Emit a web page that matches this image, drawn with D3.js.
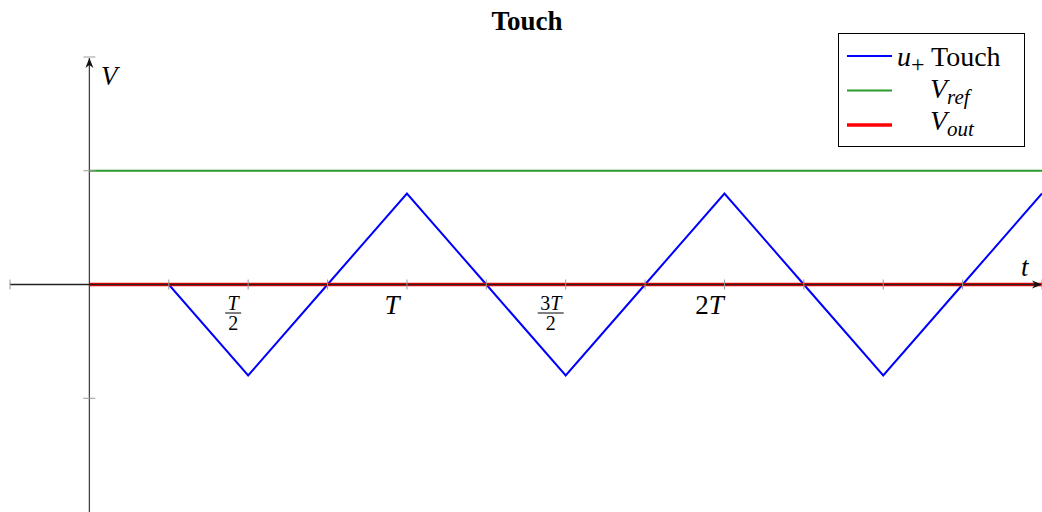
<!DOCTYPE html>
<html>
<head>
<meta charset="utf-8">
<script src="https://cdn.jsdelivr.net/npm/d3@7"></script>
<style>
    body { margin: 0; background: #fff; }
    text { font-family: "Liberation Serif", "DejaVu Serif", serif; }
</style>
</head>
<body>
<svg id="chart" width="1042" height="512"></svg>
<script>
// time in quarter periods (T/4), voltages in arbitrary units
var tPoints = [0, 1, 2, 3, 4, 5, 6, 7, 8, 9, 10, 11, 12];
var uPlus = [0, 0, -0.8, 0, 0.8, 0, -0.8, 0, 0.8, 0, -0.8, 0, 0.8];
var vRefT = [0, 12];
var vRef = [1, 1];
var vOutT = [0, 12];
var vOut = [0, 0];
var xTicks = [-1, 0, 1, 2, 3, 4, 5, 6, 7, 8, 9, 10, 11, 12];
var yTicks = [-2, -1, 1, 2];
var xTickLabels = [
    {at: 2, num: "T", den: "2"},
    {at: 4, text: "T"},
    {at: 6, num: "3T", den: "2"},
    {at: 8, text: "2T"}
];

var svg = d3.select("#chart");

var x = d3.scaleLinear().domain([-1, 12]).range([10, 1042]);
var y = d3.scaleLinear().domain([-2, 2]).range([512, 57]);

var line = d3.line()
    .x(function (d) { return x(d[0]); })
    .y(function (d) { return y(d[1]); });

// title
svg.append("text")
    .attr("x", 527)
    .attr("y", 30)
    .attr("text-anchor", "middle")
    .style("font-weight", "bold")
    .style("font-size", "27px")
    .text("Touch");

// axis lines
svg.append("line")
    .attr("x1", x(0)).attr("x2", x(0))
    .attr("y1", 512).attr("y2", y(2) + 1)
    .attr("stroke", "#444").attr("stroke-width", 1.3);

// series
svg.append("path")
    .datum(vRefT.map(function (t, i) { return [t, vRef[i]]; }))
    .attr("d", line)
    .attr("fill", "none")
    .attr("stroke", "#2a9a2a")
    .attr("stroke-width", 2.2);

svg.append("path")
    .datum(tPoints.map(function (t, i) { return [t, uPlus[i]]; }))
    .attr("d", line)
    .attr("fill", "none")
    .attr("stroke", "#0000ff")
    .attr("stroke-width", 2);

svg.append("path")
    .datum(vOutT.map(function (t, i) { return [t, vOut[i]]; }))
    .attr("d", line)
    .attr("fill", "none")
    .attr("stroke", "#ff0000")
    .attr("stroke-width", 3.5);

svg.append("line")
    .attr("x1", x(-1)).attr("x2", 1038)
    .attr("y1", y(0)).attr("y2", y(0))
    .attr("stroke", "#222").attr("stroke-width", 1.3);

// arrow heads
svg.append("path")
    .attr("d", "M1042," + y(0) + " L1032," + (y(0) - 4) + " L1035," + y(0) + " L1032," + (y(0) + 4) + "Z")
    .attr("fill", "#111");
svg.append("path")
    .attr("d", "M" + x(0) + "," + (y(2) + 1) + " L" + (x(0) - 4) + "," + (y(2) + 11) + " L" + x(0) + "," + (y(2) + 8) + " L" + (x(0) + 4) + "," + (y(2) + 11) + "Z")
    .attr("fill", "#111");

// ticks
svg.append("g")
    .selectAll("line")
    .data(xTicks.filter(function (d) { return d !== 0; }))
    .enter()
    .append("line")
    .attr("x1", function (d) { return x(d); })
    .attr("x2", function (d) { return x(d); })
    .attr("y1", y(0) - 5)
    .attr("y2", y(0) + 5)
    .attr("stroke", "#999")
    .attr("stroke-width", 1);

svg.append("g")
    .selectAll("line")
    .data(yTicks.filter(function (d) { return d > -2; }))
    .enter()
    .append("line")
    .attr("x1", x(0) - 6)
    .attr("x2", x(0) + 6)
    .attr("y1", function (d) { return y(d); })
    .attr("y2", function (d) { return y(d); })
    .attr("stroke", "#999")
    .attr("stroke-width", 1);

// tick labels
var lab = svg.append("g")
    .selectAll("g")
    .data(xTickLabels)
    .enter()
    .append("g")
    .attr("transform", function (d) { return "translate(" + (x(d.at) - 15) + "," + y(0) + ")"; });

lab.filter(function (d) { return d.text; })
    .append("text")
    .attr("y", 29)
    .attr("text-anchor", "middle")
    .style("font-size", "27px")
    .style("font-style", "italic")
    .html(function (d) {
        return d.text.replace(/([0-9]*)(T)/, "<tspan font-style='normal'>$1</tspan>$2");
    });

lab.filter(function (d) { return d.num; })
    .append("text")
    .attr("y", 25.5)
    .attr("text-anchor", "middle")
    .style("font-size", "20px")
    .style("font-style", "italic")
    .html(function (d) {
        return d.num.replace(/([0-9]*)(T)/, "<tspan font-style='normal'>$1</tspan>$2");
    });

lab.filter(function (d) { return d.num; })
    .append("line")
    .attr("x1", function (d) { return d.num.length > 1 ? -13 : -8; })
    .attr("x2", function (d) { return d.num.length > 1 ? 13 : 8; })
    .attr("y1", 28.5).attr("y2", 28.5)
    .attr("stroke", "#000").attr("stroke-width", 1);

lab.filter(function (d) { return d.den; })
    .append("text")
    .attr("y", 45.5)
    .attr("text-anchor", "middle")
    .style("font-size", "20px")
    .text(function (d) { return d.den; });

// axis names
svg.append("text")
    .attr("x", 1021).attr("y", 276)
    .style("font-size", "27px").style("font-style", "italic")
    .text("t");
svg.append("text")
    .attr("x", 101).attr("y", 85)
    .style("font-size", "27px").style("font-style", "italic")
    .text("V");

// legend
var legendItems = [
    {color: "#0000ff", width: 2, main: "u", sub: "+", rest: " Touch", dy: 10},
    {color: "#2a9a2a", width: 2.2, main: "V", sub: "ref", rest: "", dy: 7},
    {color: "#ff0000", width: 3.5, main: "V", sub: "out", rest: "", dy: 5}
];

svg.append("rect")
    .attr("x", 838.5).attr("y", 33.5)
    .attr("width", 186).attr("height", 113)
    .attr("fill", "#fff")
    .attr("stroke", "#000")
    .attr("stroke-width", 1);

var legend = svg.append("g")
    .selectAll("g")
    .data(legendItems)
    .enter()
    .append("g")
    .attr("transform", function (d, i) { return "translate(0," + (56 + i * 34.5) + ")"; });

legend.append("line")
    .attr("x1", 847).attr("x2", 892)
    .attr("y1", 0).attr("y2", 0)
    .attr("stroke", function (d) { return d.color; })
    .attr("stroke-width", function (d) { return d.width; });

var lt = legend.append("text")
    .attr("x", function (d, i) { return i === 0 ? 897 : 930; })
    .attr("y", function (d) { return d.dy; })
    .style("font-size", "28px");
lt.append("tspan")
    .style("font-style", "italic")
    .text(function (d) { return d.main; });
lt.append("tspan")
    .attr("dy", 6)
    .style("font-size", function (d) { return d.sub === "+" ? "24px" : "21px"; })
    .style("font-style", function (d) { return d.sub === "+" ? "normal" : "italic"; })
    .text(function (d) { return d.sub; });
lt.append("tspan")
    .attr("dy", -6)
    .text(function (d) { return d.rest; });
</script>
</body>
</html>
